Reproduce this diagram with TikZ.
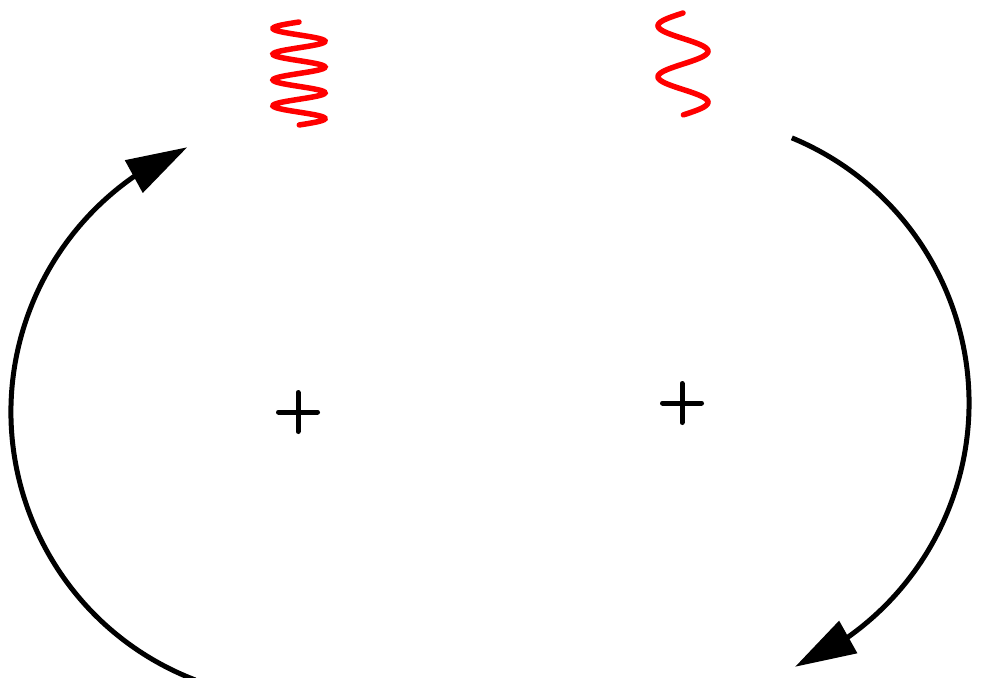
\documentclass[tikz,border=0pt]{standalone}
\usepackage{xcolor}
\usepackage{tikz}
\usetikzlibrary{arrows.meta,bending}
\definecolor{waveRed}{HTML}{FF0000}

\begin{document}
\begin{tikzpicture}[
  orbit/.style={line width=0.05cm,-{Triangle[length=0.61cm,width=0.36cm]}},
  cross/.style={line width=0.05cm,line cap=round},
  wave/.style={waveRed,line width=0.055cm,line cap=round}]
\useasboundingbox (0,0) rectangle (9.81,6.77);
\def\r{2.87}
\coordinate (ctrL) at (2.98,2.65);
\coordinate (ctrR) at (6.82,2.74);
\draw[cross] (ctrL) +(-0.195,0) -- +(0.195,0) (ctrL) +(0,-0.195) -- +(0,0.195);
\draw[cross] (ctrR) +(-0.195,0) -- +(0.195,0) (ctrR) +(0,-0.195) -- +(0,0.195);
\draw[orbit] (ctrL) ++(249:\r) arc[start angle=249,end angle=112.7,radius=\r];
\draw[orbit] (ctrR) ++(67.5:\r) arc[start angle=67.5,end angle=-66.8,radius=\r];
% short wave over the left centre, long wave over the right one
\draw[wave] plot[domain=0:1.03,samples=120,smooth] ({2.99-0.26*sin(360*\x/0.2575)},{6.55-\x});
\draw[wave] plot[domain=0:1.02,samples=120,smooth] ({6.83-0.25*sin(360*\x/0.51)},{6.64-\x});
\end{tikzpicture}
\end{document}
